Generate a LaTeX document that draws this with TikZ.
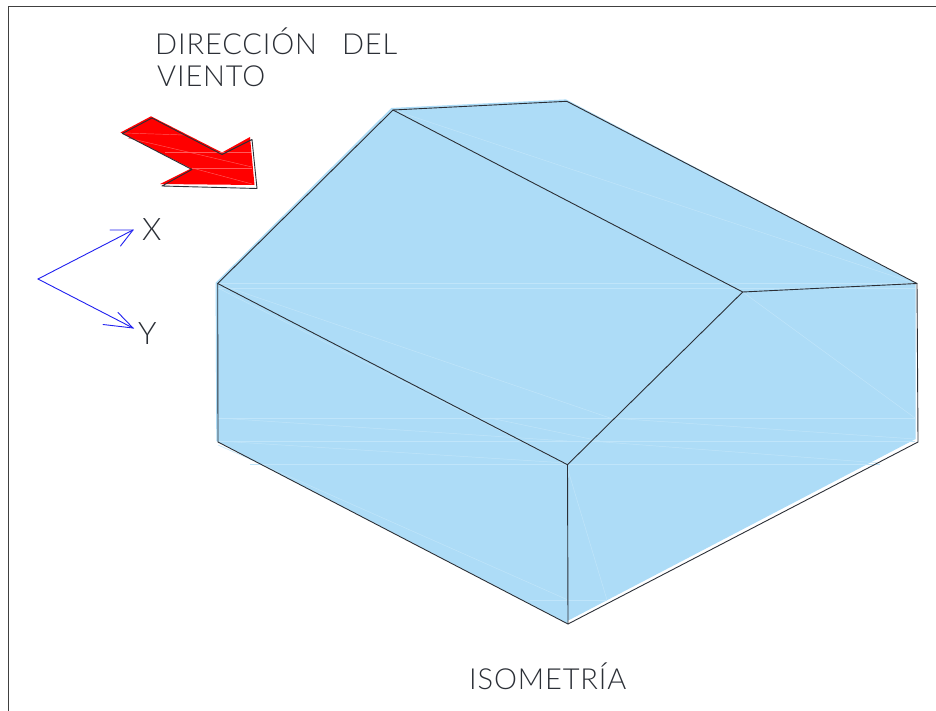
\documentclass[tikz,border=0pt]{standalone}
\usepackage{fontspec}
\setmainfont{Lato Light}[LetterSpace=3]
\usetikzlibrary{arrows.meta}
\definecolor{skyfill}{HTML}{ADDCF7}
\definecolor{skyline}{HTML}{C0E5FA}
\definecolor{inkline}{HTML}{2B2F36}
\definecolor{axisblue}{HTML}{2020F0}
\definecolor{redfill}{HTML}{FF0000}
\definecolor{redline}{HTML}{FF5A5A}
\tikzset{
  edge/.style={draw=inkline,line width=0.9pt,line join=round,line cap=round},
  faint/.style={draw=skyline,line width=0.5pt},
  faintred/.style={draw=redline,line width=0.45pt},
  axis/.style={draw=axisblue,line width=0.9pt,line cap=round},
  label/.style={inner sep=0pt,text=inkline,anchor=base west,font=\fontsize{29}{29}\selectfont},
  axislabel/.style={label,font=\fontsize{31}{31}\selectfont},
}
\begin{document}
\begin{tikzpicture}[x=1pt,y=-1pt]
\useasboundingbox (0,0) rectangle (936,711);
\fill[white] (0,0) rectangle (936,711);
% frame
\coordinate (fa) at (8.5,711);
\coordinate (fb) at (8.5,6.5);
\coordinate (fc) at (936,6.5);
\draw[draw=black!75,line width=1pt] (fa) -- (fb) -- (fc);
% building vertices
\coordinate (A) at (217.7,283.5);
\coordinate (B) at (393,110);
\coordinate (C) at (566.8,101.3);
\coordinate (D) at (917,283.5);
\coordinate (E) at (742.7,292);
\coordinate (F) at (567.5,464.7);
\coordinate (G) at (218,442);
\coordinate (H) at (568,624);
\coordinate (I) at (918,442);
% fill (slightly offset from the line work)
\fill[skyfill] (215.6,282.8) -- (391.3,108) -- (566,99.4) -- (915.5,283) -- (915.5,439) -- (568,620.6) -- (567.5,623.5) -- (216.3,441) -- cycle;
% faint triangulation lines
\draw[faint] (218,283) -- (915,283);
\draw[faint] (218,288.5) -- (915,288.5);
\draw[faint] (218,418) -- (915,418);
\draw[faint] (218,441) -- (915,441);
\draw[faint] (250,464) -- (880,464);
\draw[faint] (530,600) -- (607,600);
\draw[faint] (218,284) -- (610,418);
\draw[faint] (393,110) -- (917,284);
\draw[faint] (218,288) -- (566,464);
\draw[faint] (218,418) -- (567,441);
\draw[faint] (218,441) -- (567,463);
\draw[faint] (490,418) -- (600,441);
\draw[faint] (610,418) -- (915,439);
\draw[faint] (590,441) -- (880,463);
\draw[faint] (742.7,292) -- (915,418);
\draw[faint] (568,470) -- (607,600);
\draw[faint] (218,445) -- (568,600);
% line work
\draw[edge] (A) -- (B) -- (C) -- (D) -- (I) -- (H) -- (G) -- cycle;
\draw[edge] (B) -- (E) -- (D);
\draw[edge] (A) -- (F) -- (E);
\draw[edge] (F) -- (H);
% red arrow
\fill[redfill] (120.5,132.5) -- (151,116.3) -- (222,152.5) -- (250,137) -- (254.5,185) -- (160,184) -- (191,168.5) -- cycle;
\draw[faintred] (124,133) -- (185,135);
\draw[faintred] (128,138) -- (252,167);
\draw[faintred] (192,168) -- (252,184);
\draw[faintred] (165,152) -- (251,152);
\draw[faintred] (192,168) -- (252,168);
\coordinate (r1) at (122.5,133.5);
\coordinate (r2) at (152,118);
\coordinate (r3) at (222,154.5);
\coordinate (r4) at (252,139.5);
\coordinate (r5) at (257,188.5);
\coordinate (r6) at (162,186);
\coordinate (r7) at (192,169.5);
\draw[edge] (r1) -- (r2) -- (r3) -- (r4) -- (r5) -- (r6) -- (r7) -- cycle;
% axes
\coordinate (O) at (38,279);
\coordinate (xt) at (133,230);
\coordinate (xb1) at (110,230);
\coordinate (xb2) at (120.5,246);
\coordinate (yt) at (133,328);
\coordinate (yb1) at (103,324.5);
\coordinate (yb2) at (118,312.5);
\draw[axis] (O) -- (xt);
\draw[axis] (xb1) -- (xt) -- (xb2);
\draw[axis] (O) -- (yt);
\draw[axis] (yb1) -- (yt) -- (yb2);
% labels
\node[label] (t1) at (155,55) {DIRECCIÓN\hspace{25pt}DEL};
\node[label] (t2) at (157,87) {VIENTO};
\node[axislabel] (tx) at (142,240.5) {X};
\node[axislabel] (ty) at (138,344.5) {Y};
\node[label] (t3) at (469,689) {ISOMETRÍA};
\end{tikzpicture}
\end{document}
